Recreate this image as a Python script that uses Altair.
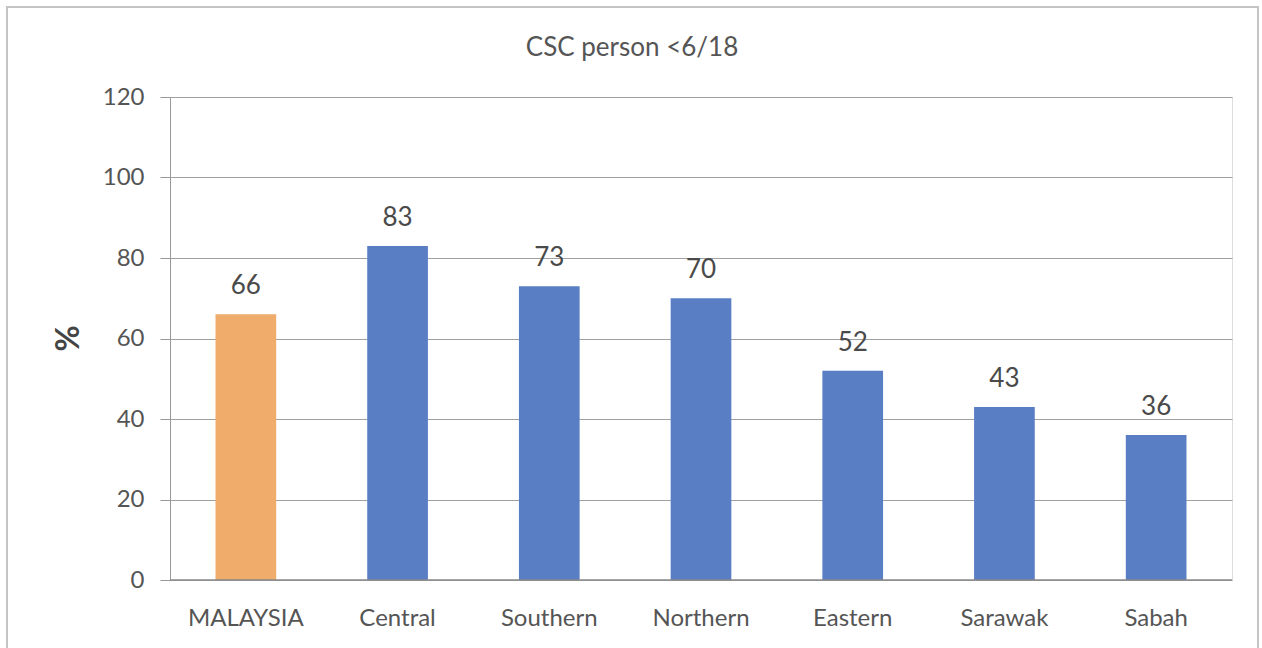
import altair as alt
import pandas as pd

categories = ["MALAYSIA", "Central", "Southern", "Northern", "Eastern", "Sarawak", "Sabah"]
values = [66, 83, 73, 70, 52, 43, 36]
groups = ["national", "region", "region", "region", "region", "region", "region"]
chart_title = "CSC person <6/18"

df = pd.DataFrame({"region": categories, "pct": values, "group": groups})

FONT = "Lato"
W, H = 1062, 483

x_enc = alt.X("region:N", sort=categories,
              scale=alt.Scale(paddingInner=0.6, paddingOuter=0.3),
              axis=alt.Axis(title=None, labelAngle=0, labelFontSize=24, labelColor="#555555",
                            labelFont=FONT, labelPadding=26, ticks=False, domain=False))
y_enc = alt.Y("pct:Q", scale=alt.Scale(domain=[0, 120]),
              axis=alt.Axis(values=[0, 20, 40, 60, 80, 100, 120], title="%", titleFontSize=32,
                            titleFont=FONT, titleFontWeight="bold", titleColor="#444444",
                            titleAngle=-90, titleX=-102, titleY=241, titleAlign="center",
                            titleBaseline="middle",
                            labelFontSize=24, labelFont=FONT, labelColor="#555555", labelPadding=16,
                            tickSize=10, tickColor="#999999", domainColor="#999999",
                            gridColor="#a0a0a0", gridWidth=1))

bars = alt.Chart(df).mark_bar().encode(
    x=x_enc, y=y_enc,
    color=alt.Color("group:N", scale=alt.Scale(domain=["national", "region"],
                                               range=["#EFAC6B", "#5A7EC4"]), legend=None),
)

labels = alt.Chart(df).mark_text(fontSize=26, font=FONT, color="#4a4a4a",
                                 baseline="alphabetic", dy=-20).encode(
    x=alt.X("region:N", sort=categories), y=alt.Y("pct:Q"), text=alt.Text("pct:Q"))

zero = alt.Chart(pd.DataFrame({"z": [0]})).mark_rule(color="#8a8a8a", strokeWidth=1.5).encode(
    y=alt.Y("z:Q"))

single = pd.DataFrame({"t": [chart_title]})

border = alt.Chart(single).mark_rect(
    fill="transparent", stroke="#c4c4c4", strokeWidth=2).encode(
    x=alt.value(-163), x2=alt.value(1088), y=alt.value(-90), y2=alt.value(570))

title_txt = alt.Chart(single).mark_text(fontSize=26, font=FONT, color="#555555",
                                        baseline="alphabetic", align="center").encode(
    x=alt.value(462), y=alt.value(-41), text="t:N")

chart = alt.layer(border, bars, zero, labels, title_txt).properties(
    width=W, height=H,
    autosize=alt.AutoSizeParams(type="none"),
    padding={"left": 170, "top": 97, "right": 30, "bottom": 68},
).configure_view(stroke=None).configure(background="white")

chart.save("out.html", embed_options={"renderer": "svg", "actions": False})
